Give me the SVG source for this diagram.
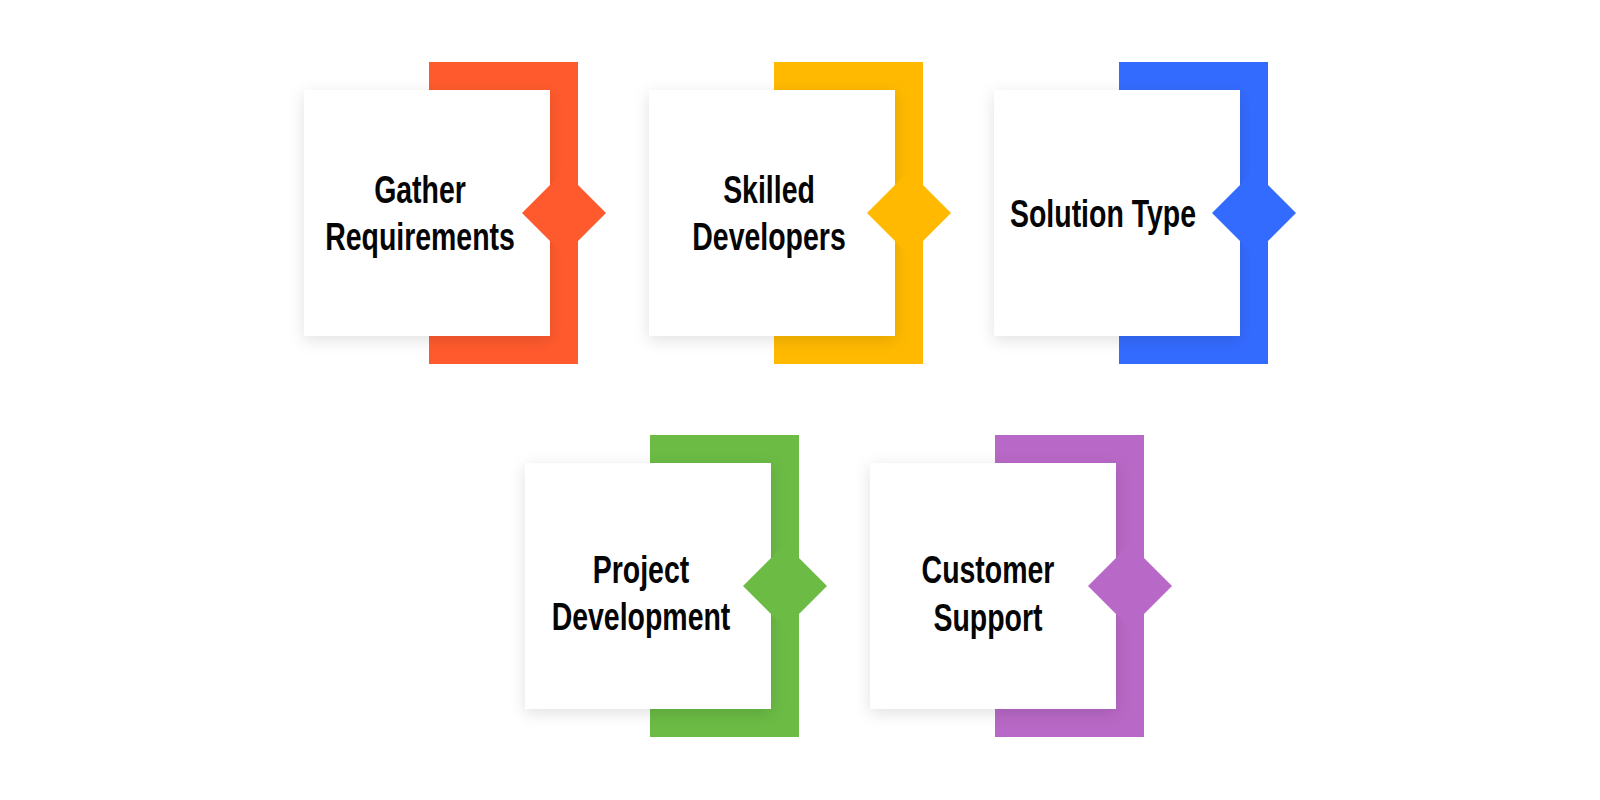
<svg xmlns="http://www.w3.org/2000/svg" width="1600" height="800" viewBox="0 0 1600 800">
<defs>
<filter id="sh" x="-30%" y="-30%" width="160%" height="160%">
<feDropShadow dx="0" dy="4" stdDeviation="8" flood-color="#000" flood-opacity="0.12"/>
</filter>
<style>
.box{fill:#ffffff;filter:url(#sh);}
.lbl{font-family:"Liberation Sans",Arial,sans-serif;font-weight:bold;font-size:39px;fill:#050505;text-anchor:middle;}
.c1{fill:#FF5A2D;}
.c2{fill:#FFB900;}
.c3{fill:#346BFF;}
.c4{fill:#6BBB45;}
.c5{fill:#B868C6;}
</style>
</defs>
<rect width="1600" height="800" fill="#ffffff"/>
<g id="connectors"></g>
<g id="node1">
<g transform="translate(304,90)">
<rect class="c1" x="125" y="-28" width="149" height="302"/>
<rect class="box" x="0" y="0" width="246" height="246"/>
<polygon class="c1" points="218,123 260,81 302,123 260,165"/>
</g>
<text class="lbl" transform="matrix(0.73 0 0 1 420 0)" x="0" y="203">Gather</text>
<text class="lbl" transform="matrix(0.73 0 0 1 420 0)" x="0" y="250">Requirements</text>
</g>
<g id="node2">
<g transform="translate(649,90)">
<rect class="c2" x="125" y="-28" width="149" height="302"/>
<rect class="box" x="0" y="0" width="246" height="246"/>
<polygon class="c2" points="218,123 260,81 302,123 260,165"/>
</g>
<text class="lbl" transform="matrix(0.73 0 0 1 769 0)" x="0" y="203">Skilled</text>
<text class="lbl" transform="matrix(0.73 0 0 1 769 0)" x="0" y="250">Developers</text>
</g>
<g id="node3">
<g transform="translate(994,90)">
<rect class="c3" x="125" y="-28" width="149" height="302"/>
<rect class="box" x="0" y="0" width="246" height="246"/>
<polygon class="c3" points="218,123 260,81 302,123 260,165"/>
</g>
<text class="lbl" transform="matrix(0.73 0 0 1 1103 0)" x="0" y="227">Solution Type</text>
</g>
<g id="node4">
<g transform="translate(525,463)">
<rect class="c4" x="125" y="-28" width="149" height="302"/>
<rect class="box" x="0" y="0" width="246" height="246"/>
<polygon class="c4" points="218,123 260,81 302,123 260,165"/>
</g>
<text class="lbl" transform="matrix(0.73 0 0 1 641 0)" x="0" y="583">Project</text>
<text class="lbl" transform="matrix(0.73 0 0 1 641 0)" x="0" y="630">Development</text>
</g>
<g id="node5">
<g transform="translate(870,463)">
<rect class="c5" x="125" y="-28" width="149" height="302"/>
<rect class="box" x="0" y="0" width="246" height="246"/>
<polygon class="c5" points="218,123 260,81 302,123 260,165"/>
</g>
<text class="lbl" transform="matrix(0.73 0 0 1 988 0)" x="0" y="583">Customer</text>
<text class="lbl" transform="matrix(0.73 0 0 1 988 0)" x="0" y="631">Support</text>
</g>
</svg>
